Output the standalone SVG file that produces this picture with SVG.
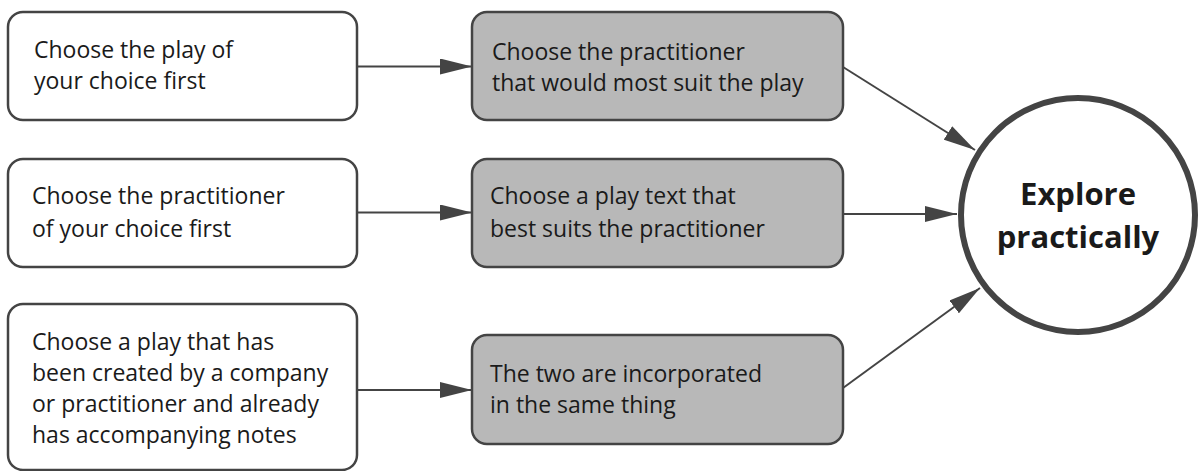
<svg xmlns="http://www.w3.org/2000/svg" width="1201" height="471" viewBox="0 0 1201 471">
<style>
.box{fill:#ffffff;stroke:#444444;stroke-width:2.5}
.gbox{fill:#b8b8b8;stroke:#444444;stroke-width:2.5}
.t{font-family:"Open Sans","Noto Sans",sans-serif;font-size:23px;fill:#1a1a1a}
.b{font-family:"Open Sans","Noto Sans",sans-serif;font-size:31px;font-weight:bold;fill:#1a1a1a;text-anchor:middle}
.c{fill:none;stroke:#444444;stroke-width:2;marker-end:url(#ah)}
</style>
<defs>
<marker id="ah" viewBox="0 0 32 16" refX="32" refY="8" markerWidth="32" markerHeight="16" markerUnits="userSpaceOnUse" orient="auto">
<path d="M0,0 L32,8 L0,16 Z" fill="#444444"/>
</marker>
</defs>
<g id="connectors">
<line class="c" x1="357" y1="66.5" x2="472" y2="66.5"/>
<line class="c" x1="357" y1="212.5" x2="472" y2="212.5"/>
<line class="c" x1="357" y1="390" x2="472" y2="390"/>
<line class="c" x1="843" y1="67" x2="975" y2="150"/>
<line class="c" x1="843" y1="214" x2="957" y2="214"/>
<line class="c" x1="843" y1="388" x2="980" y2="288"/>
</g>
<g id="n1">
<rect class="box" x="8" y="12" width="349" height="108" rx="15"/>
<text class="t" x="34" y="58">Choose the play of</text>
<text class="t" x="34" y="89">your choice first</text>
</g>
<g id="n2">
<rect class="gbox" x="472" y="12" width="371" height="108" rx="15"/>
<text class="t" x="492" y="60">Choose the practitioner</text>
<text class="t" x="492" y="91">that would most suit the play</text>
</g>
<g id="n3">
<rect class="box" x="8" y="159" width="349" height="108" rx="15"/>
<text class="t" x="32" y="204">Choose the practitioner</text>
<text class="t" x="32" y="237">of your choice first</text>
</g>
<g id="n4">
<rect class="gbox" x="472" y="159" width="371" height="108" rx="15"/>
<text class="t" x="490" y="204">Choose a play text that</text>
<text class="t" x="490" y="237">best suits the practitioner</text>
</g>
<g id="n5">
<rect class="box" x="8" y="304" width="349" height="166" rx="15"/>
<text class="t" x="32" y="350">Choose a play that has</text>
<text class="t" x="32" y="381">been created by a company</text>
<text class="t" x="32" y="412">or practitioner and already</text>
<text class="t" x="32" y="443">has accompanying notes</text>
</g>
<g id="n6">
<rect class="gbox" x="472" y="335" width="371" height="109" rx="15"/>
<text class="t" x="490" y="382">The two are incorporated</text>
<text class="t" x="490" y="413">in the same thing</text>
</g>
<g id="n7">
<circle cx="1078" cy="215" r="117" fill="#ffffff" stroke="#444444" stroke-width="6"/>
<text class="b" x="1078" y="205">Explore</text>
<text class="b" x="1078" y="248">practically</text>
</g>
</svg>
